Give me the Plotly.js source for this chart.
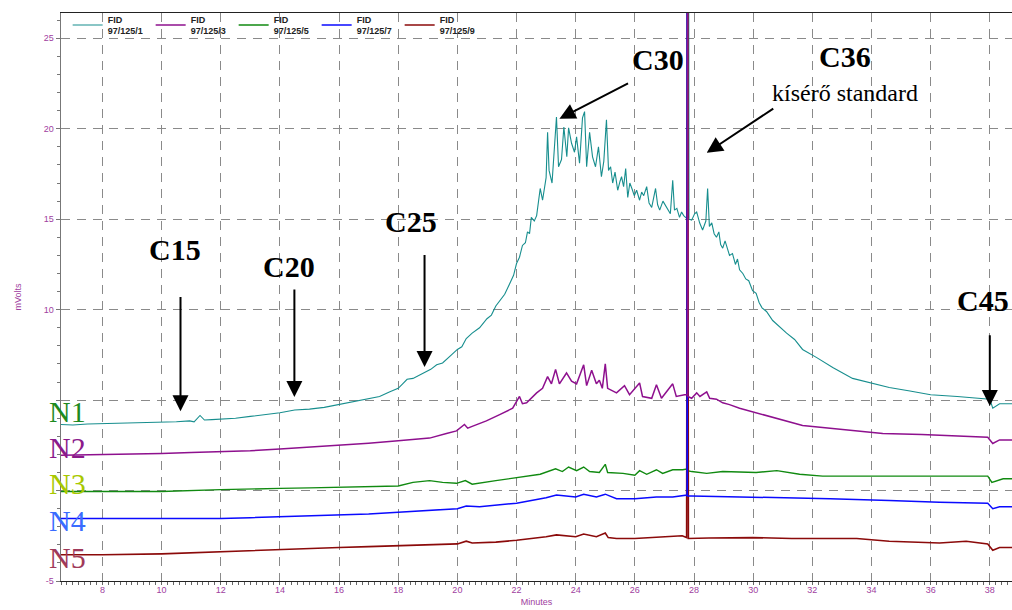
<!DOCTYPE html>
<html>
<head>
<meta charset="utf-8">
<script src="https://cdn.plot.ly/plotly-3.0.1.min.js"></script>
<style>html,body{margin:0;padding:0;background:#fff;}#chart{width:1012px;height:610px;}</style>
</head>
<body>
<div id="chart"></div>
<script>
// ---- data (minutes, mV) ----
const seriesNames = ["FID<br>97/125/1", "FID<br>97/125/3", "FID<br>97/125/5", "FID<br>97/125/7", "FID<br>97/125/9"];
const seriesColors = ["#178e8e", "#8e108e", "#118a11", "#0a0aff", "#8b0a0a"];

const t1 = [6.6,7.0,7.5,8.0,8.5,9.0,9.5,10.0,10.5,10.95,11.1,11.3,11.45,11.7,12.0,12.5,13.0,13.5,14.0,14.5,15.0,15.5,16.0,16.5,17.0,17.37,17.7,18.0,18.15,18.3,18.5,18.8,19.1,19.3,19.5,19.8,20.0,20.15,20.3,20.5,20.75,21.0,21.15,21.3,21.5,21.6,21.76,21.9,22.0,22.1,22.2,22.3,22.37,22.44,22.5,22.6,22.68,22.8,22.88,23.0,23.05,23.1,23.2,23.29,23.35,23.42,23.52,23.6,23.7,23.76,23.86,23.96,24.03,24.13,24.23,24.3,24.37,24.47,24.57,24.67,24.77,24.87,24.95,25.04,25.11,25.18,25.25,25.33,25.42,25.5,25.55,25.62,25.69,25.76,25.83,25.9,25.98,26.06,26.16,26.23,26.3,26.4,26.48,26.57,26.7,26.77,26.84,26.95,27.07,27.14,27.2,27.28,27.34,27.42,27.51,27.58,27.65,27.75,27.8,27.815,27.83,27.92,28.02,28.09,28.19,28.29,28.4,28.46,28.52,28.6,28.68,28.76,28.84,28.9,28.97,29.05,29.1,29.2,29.3,29.4,29.47,29.54,29.65,29.75,29.85,29.98,30.1,30.2,30.3,30.45,30.66,30.85,31.13,31.4,31.67,32.15,32.69,33.36,34.0,34.6,35.3,36.0,36.9,37.76,38.0,38.1,38.33,38.75];
const n1 = [3.65,3.62,3.68,3.7,3.72,3.7,3.76,3.75,3.8,3.85,3.8,4.15,3.9,3.92,3.95,4.0,4.1,4.2,4.3,4.45,4.5,4.6,4.75,4.9,5.05,5.2,5.45,5.65,5.9,6.15,6.2,6.45,6.7,6.95,7.05,7.5,7.8,7.95,8.4,8.7,9.0,9.5,9.7,10.2,10.6,10.85,11.4,11.9,12.55,12.9,13.55,13.7,14.3,14.2,15.1,14.9,15.2,16.7,16.05,17.3,19.8,17.7,17.0,19.0,20.65,17.9,18.3,20.1,18.45,20.05,19.2,18.7,19.55,18.1,20.6,20.95,17.9,19.8,18.45,17.9,19.0,17.35,18.2,20.5,17.7,17.9,17.0,17.6,16.6,17.1,17.35,16.8,17.8,16.2,17.0,16.7,16.3,16.6,16.05,16.5,16.3,16.8,15.9,15.65,16.7,15.8,15.5,16.0,15.65,15.4,15.3,17.15,15.5,15.6,15.1,15.4,15.2,15.05,15.1,35,15.0,14.95,15.3,15.4,14.8,14.4,14.9,16.7,14.6,14.8,14.2,14.0,14.3,13.6,13.4,13.8,13.5,13.0,13.1,12.5,12.8,12.2,12.0,11.7,11.6,11.05,10.9,10.4,10.1,9.9,9.4,9.1,8.7,8.35,7.8,7.35,6.8,6.2,5.95,5.7,5.5,5.3,5.2,5.1,5.05,4.55,4.8,4.8];

const t2 = [6.6,8,9,10,11,12,13,14,15,16,17,18,19.06,19.63,19.97,20.24,20.35,20.5,20.98,21.43,21.87,22.1,22.2,22.34,22.68,22.88,23.05,23.18,23.32,23.45,23.69,23.86,24.03,24.27,24.37,24.54,24.7,24.8,24.9,25.0,25.08,25.38,25.65,25.82,26.16,26.26,26.57,26.73,26.9,27.28,27.4,27.68,27.78,27.785,27.79,27.92,28.09,28.2,28.43,28.53,28.76,28.97,29.2,29.54,30.1,30.8,31.67,32.6,33.5,34.38,35.7,36.9,37.93,38.1,38.33,38.75];
const n2 = [1.95,1.98,2.0,2.05,2.1,2.15,2.2,2.3,2.4,2.5,2.62,2.75,2.9,3.15,3.3,3.65,3.45,3.55,3.85,4.2,4.55,5.2,4.8,4.85,5.4,5.65,6.3,5.9,6.7,5.9,6.5,6.05,5.9,6.95,5.8,6.65,5.9,6.1,5.65,7.0,5.65,5.4,5.8,5.3,5.95,5.2,5.1,5.85,5.1,5.9,5.2,5.3,5.3,35,5.2,5.1,5.4,5.2,5.45,5.1,5.05,4.85,4.75,4.55,4.3,4.0,3.6,3.45,3.3,3.15,3.1,3.0,2.95,2.6,2.8,2.8];

const t3 = [6.6,8,10,12,13,14,15,16,17,18,18.5,19.06,19.5,19.97,20.27,20.5,21.3,22.0,22.8,23.32,23.55,23.76,24.03,24.27,24.47,24.8,25.0,25.08,25.6,26.0,26.16,26.4,26.73,26.94,27.28,27.62,27.77,27.775,27.785,27.92,28.43,28.97,30.1,30.8,31.57,32.35,34.6,37.93,38.07,38.45,38.75];
const n3 = [-0.05,-0.05,-0.05,0.05,0.1,0.12,0.15,0.18,0.2,0.25,0.45,0.55,0.45,0.4,0.55,0.35,0.55,0.7,0.9,1.2,1.05,1.3,1.1,1.3,1.05,1.0,1.45,1.0,0.95,0.85,1.1,0.9,1.15,0.95,1.15,1.15,1.2,35,1.1,1.05,0.95,1.05,1.0,1.1,0.9,0.8,0.8,0.8,0.45,0.65,0.65];

const t4 = [6.6,10,12,13,15,16,17,18,19.06,20.0,20.3,20.75,22.0,23.0,23.35,24.0,24.27,24.7,25.0,25.38,26.0,26.73,27.28,27.68,27.765,27.77,27.775,27.92,28.97,30.3,32.6,34.6,36.3,37.93,38.1,38.33,38.75];
const n4 = [-1.55,-1.55,-1.55,-1.5,-1.4,-1.35,-1.3,-1.2,-1.1,-1.0,-0.85,-0.9,-0.7,-0.4,-0.25,-0.35,-0.2,-0.35,-0.2,-0.45,-0.45,-0.35,-0.35,-0.25,-0.25,35,-0.3,-0.3,-0.33,-0.35,-0.45,-0.55,-0.65,-0.7,-1.0,-0.9,-0.9];

const t5 = [6.6,8,10,11.3,12,13,14,15,16,17,18,19.06,20.0,20.3,20.5,21.3,22.0,23.0,23.35,24.0,24.27,24.7,25.0,25.1,25.38,26.0,26.73,27.6,27.75,27.78,27.81,28.5,29.98,31.3,33.5,34.6,36.3,37.2,37.93,38.1,38.33,38.75];
const n5 = [-3.55,-3.55,-3.5,-3.42,-3.38,-3.3,-3.25,-3.2,-3.15,-3.1,-3.05,-3.0,-2.95,-2.8,-2.9,-2.85,-2.75,-2.55,-2.45,-2.55,-2.4,-2.55,-2.35,-2.6,-2.65,-2.65,-2.6,-2.5,-2.6,35,-2.65,-2.62,-2.6,-2.65,-2.65,-2.8,-2.9,-2.8,-2.95,-3.3,-3.15,-3.15];

const xTicks = [8,10,12,14,16,18,20,22,24,26,28,30,32,34,36,38];
const yTicks = [-5,0,5,10,15,20,25];
const yTickText = ["-5","","","10","15","20","25"];

// peak labels: [text, x, y], arrows: [headX, headY, tailX, tailY]
const peakLabels = [["C15",10.47,13.3],["C20",14.32,12.4],["C25",18.42,14.85],["C30",26.77,23.85],["C36",33.09,24.0],["C45",37.76,10.5]];
const peakArrows = [[10.64,4.39,10.64,10.78],[14.49,5.17,14.49,11.2],[18.89,6.83,18.89,13.1],[23.45,20.55,25.82,22.55],[28.43,18.67,30.73,21.17],[38.0,4.67,38.0,8.67]];
const standardLabel = ["kísérő standard",33.09,22.0];
const sampleLabels = ["N1","N2","N3","N4","N5"];
const sampleLabelY = [4.39,2.39,0.39,-1.67,-3.72];
const sampleLabelColors = ["#1e8a1e","#8b1a8b","#a8c800","#3a6cff","#a03a5a"];

const xs = [t1,t2,t3,t4,t5];
const ys = [n1,n2,n3,n4,n5];
const widths = [1.1,1.5,1.4,1.5,1.6];
const drawOrder = [0,2,4,3,1];   // purple spike drawn on top, like the reference

const traces = drawOrder.map(i=>({
  type:'scatter', mode:'lines', x:xs[i], y:ys[i], name:seriesNames[i], legendrank:i+1,
  line:{color:seriesColors[i], width:widths[i]}, hoverinfo:'skip'
}));

const purple = '#a040a0';
const annotations = [];
peakLabels.forEach(p=>annotations.push({x:p[1],y:p[2],xref:'x',yref:'y',text:'<b>'+p[0]+'</b>',showarrow:false,
  font:{family:'Liberation Serif, Times New Roman, serif',size:30,color:'#000'}}));
annotations.push({x:standardLabel[1],y:standardLabel[2],xref:'x',yref:'y',text:standardLabel[0],showarrow:false,
  font:{family:'Liberation Serif, Times New Roman, serif',size:24,color:'#000'}});
peakArrows.forEach(a=>annotations.push({x:a[0],y:a[1],ax:a[2],ay:a[3],xref:'x',yref:'y',axref:'x',ayref:'y',text:'',
  showarrow:true,arrowhead:2,arrowsize:1.6,arrowwidth:2,arrowcolor:'#000',standoff:0,startstandoff:0}));
sampleLabels.forEach((s,i)=>annotations.push({x:-0.0147,y:sampleLabelY[i],xref:'paper',yref:'y',xanchor:'left',text:s,showarrow:false,
  font:{family:'Liberation Serif, Times New Roman, serif',size:30,color:sampleLabelColors[i]}}));

const layout = {
  width:1012, height:610,
  margin:{l:61,r:0,t:13,b:29},
  paper_bgcolor:'#fff', plot_bgcolor:'#fff',
  showlegend:true,
  legend:{orientation:'h',x:0.007,y:1.011,xanchor:'left',yanchor:'top',entrywidth:38,entrywidthmode:'pixels',traceorder:'normal',
    font:{family:'Arial, Liberation Sans, sans-serif',size:9,color:'#222',weight:'bold'},bgcolor:'rgba(0,0,0,0)',valign:'middle'},
  xaxis:{range:[6.6,38.75],tickmode:'array',tickvals:xTicks,showgrid:true,gridcolor:'#8a8a8a',griddash:'9px,7px',gridwidth:1,
    showline:true,linecolor:'#222',linewidth:1,mirror:true,ticks:'',zeroline:false,
    tickfont:{family:'Arial, Liberation Sans, sans-serif',size:9,color:purple},
    title:{text:'Minutes',font:{family:'Arial, Liberation Sans, sans-serif',size:9,color:purple},standoff:4},
    minor:{tickmode:'linear',tick0:8,dtick:0.2,ticks:'outside',ticklen:3,tickcolor:'#666',showgrid:false}},
  yaxis:{range:[-5,26.4],tickmode:'array',tickvals:yTicks,ticktext:yTickText,showgrid:true,gridcolor:'#8a8a8a',griddash:'9px,7px',gridwidth:1,
    showline:true,linecolor:'#777',linewidth:1.5,ticks:'outside',ticklen:4,tickcolor:'#777',zeroline:false,
    tickfont:{family:'Arial, Liberation Sans, sans-serif',size:9,color:purple},
    title:{text:'mVolts',font:{family:'Arial, Liberation Sans, sans-serif',size:9,color:purple},standoff:20},
    minor:{tickmode:'linear',tick0:0,dtick:1,ticks:'outside',ticklen:3,tickcolor:'#777',showgrid:false}},
  annotations:annotations
};

Plotly.newPlot('chart', traces, layout, {displayModeBar:false, staticPlot:true});
</script>
</body>
</html>
